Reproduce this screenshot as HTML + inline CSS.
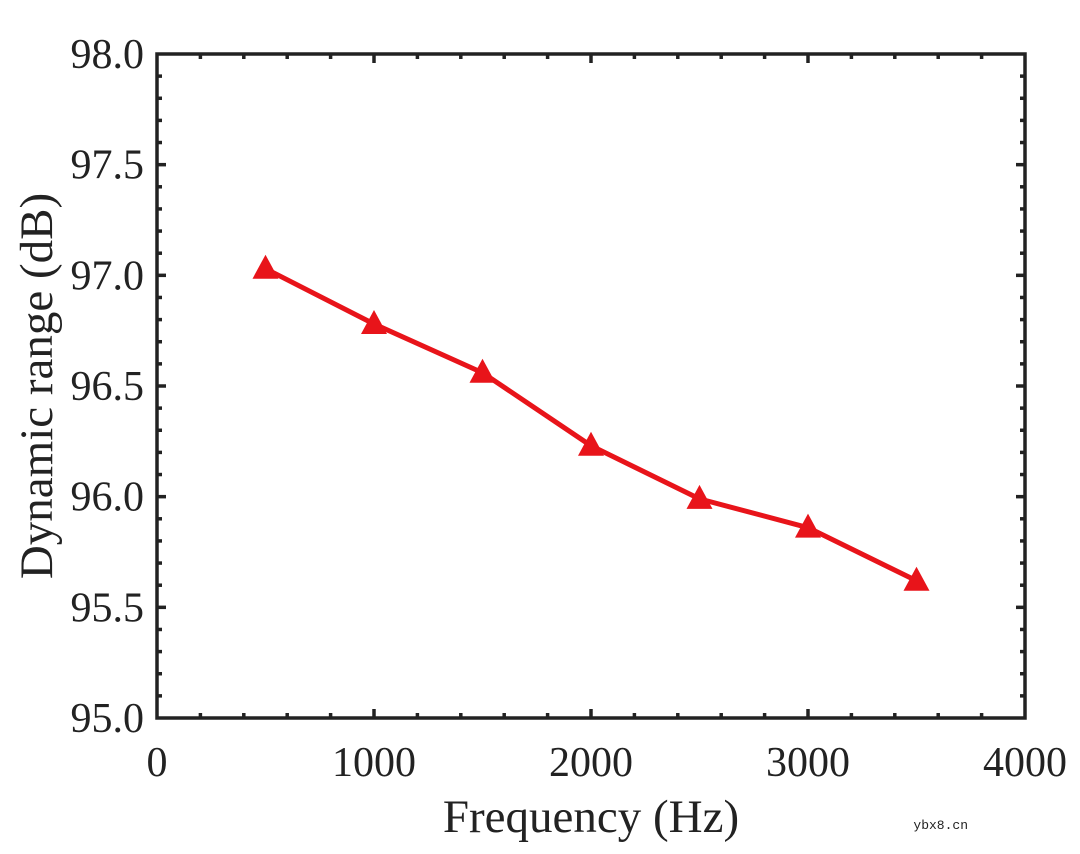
<!DOCTYPE html>
<html><head><meta charset="utf-8"><style>
html,body{margin:0;padding:0;background:#fff;}
svg{display:block;}
text{font-family:"Liberation Serif",serif;fill:#222;}
</style></head><body>
<svg id="s" width="1080" height="854" xmlns="http://www.w3.org/2000/svg">
<rect x="157" y="54" width="868" height="664" fill="none" stroke="#222" stroke-width="3.5"/>
<g id="ticks" stroke="#222" stroke-width="3.5"></g>
<g id="lab" font-size="42"></g>
<text x="591" y="832" font-size="47" text-anchor="middle">Frequency (Hz)</text>
<text transform="translate(52,386) rotate(-90)" font-size="47" text-anchor="middle">Dynamic range (dB)</text>
<polyline id="line" fill="none" stroke="#e8141a" stroke-width="5" stroke-linejoin="round"/>
<g id="mk" fill="#e8141a"></g>
<text x="968" y="829" font-size="13" text-anchor="end" style="font-family:'Liberation Mono',monospace">ybx8.cn</text>
</svg>
<script>
var L=157,R=1025,T=54,B=718,ns="http://www.w3.org/2000/svg";
function X(v){return L+(R-L)*v/4000}
function Y(v){return B-(B-T)*(v-95)/3}
function el(t,a,p){var e=document.createElementNS(ns,t);for(var k in a)e.setAttribute(k,a[k]);document.getElementById(p).appendChild(e);return e}
for(var i=1;i<20;i++){var x=X(i*200),len=i%5==0?9:5;
el("line",{x1:x,y1:B,x2:x,y2:B-len},"ticks");el("line",{x1:x,y1:T,x2:x,y2:T+len},"ticks");}
for(var i=1;i<30;i++){var y=Y(95+i*0.1),len=i%5==0?9:5;
el("line",{x1:L,y1:y,x2:L+len,y2:y},"ticks");el("line",{x1:R,y1:y,x2:R-len,y2:y},"ticks");}
for(var i=0;i<=4;i++){var t=el("text",{x:X(i*1000),y:776,"text-anchor":"middle"},"lab");t.textContent=i*1000;}
for(var i=0;i<=6;i++){var v=95+i*0.5;var t=el("text",{x:144,y:Y(v)+14,"text-anchor":"end"},"lab");t.textContent=v.toFixed(1);}
var d=[[500,97.03],[1000,96.78],[1500,96.56],[2000,96.23],[2500,95.99],[3000,95.86],[3500,95.62]];
document.getElementById("line").setAttribute("points",d.map(function(p){return X(p[0])+","+Y(p[1])}).join(" "));
d.forEach(function(p){var x=X(p[0]),y=Y(p[1]);el("polygon",{points:(x-13)+","+(y+10)+" "+(x+13)+","+(y+10)+" "+x+","+(y-14)},"mk");});
</script>
</body></html>
